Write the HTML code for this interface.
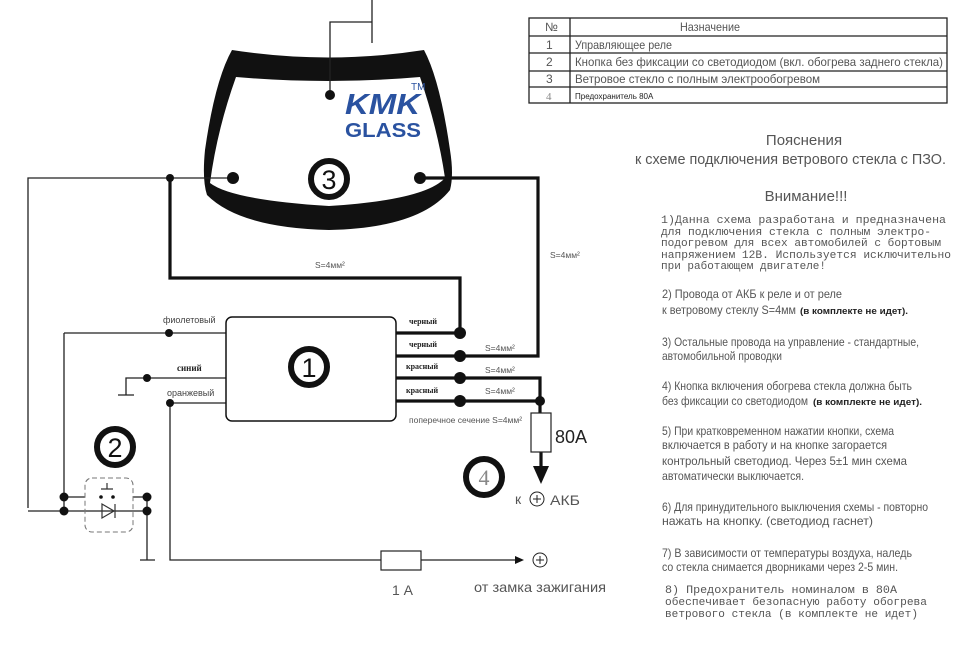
<!DOCTYPE html>
<html><head><meta charset="utf-8"><style>
html,body{margin:0;padding:0;background:#fff;}
svg{display:block;}
.n{font-family:"Liberation Sans",sans-serif;fill:#555;}
.m{font-family:"Liberation Mono","DejaVu Sans Mono",monospace;fill:#555;font-size:11px;}
.b{font-family:"Liberation Serif",serif;font-weight:bold;font-size:8px;fill:#222;}
.s{font-family:"Liberation Sans",sans-serif;font-size:9px;fill:#444;}
</style></head><body>
<svg width="960" height="661" viewBox="0 0 960 661" xmlns="http://www.w3.org/2000/svg">
<!-- windshield -->
<path d="M232,50 Q328,65 424,50 Q440,80 450,150 Q454,175 450,190 Q420,228 329,230 Q240,228 207,195 Q202,180 205,150 Q215,80 232,50 Z" fill="#111"/>
<path d="M236,77 Q328,85 420,77 Q438,130 445,178 Q425,200 329,206 Q232,200 210,183 Q217,130 236,77 Z" fill="#fff"/>
<text x="345" y="114" font-family="Liberation Sans" font-weight="bold" font-style="italic" font-size="29" fill="#2a52a0" textLength="75" lengthAdjust="spacingAndGlyphs">KMK</text>
<text x="345" y="137" font-family="Liberation Sans" font-weight="bold" font-size="20" fill="#2a52a0" textLength="76" lengthAdjust="spacingAndGlyphs">GLASS</text>
<text x="411" y="90" font-family="Liberation Sans" font-size="10" fill="#2a52a0">TM</text>
<g stroke="#222" stroke-width="1.3" fill="none">
<path d="M372,0 V43 M372,22 H330 V95"/>
<path d="M28,508 V178 H233"/>
<path d="M64,333 H226 M64,333 V511"/>
<path d="M126,395 V378 H226 M118,395 H134"/>
<path d="M170,403 H226 M170,403 V560 H515"/>
<path d="M28,511 H64 M64,497 H85 M133,497 H147 M64,511 H147 M147,497 V560 M140,560 H155"/>
</g>
<g stroke="#111" stroke-width="3.2" fill="none">
<path d="M420,178 H538 V356 H396"/>
<path d="M170,178 V278 H460 V333 H396"/>
<path d="M396,378 H540 V413 M396,401 H540 M541,452 V468"/>
</g>
<polygon points="533,466 549,466 541,484" fill="#111"/>
<polygon points="515,556 524,560 515,564" fill="#111"/>
<g fill="#111">
<circle cx="330" cy="95" r="5"/><circle cx="233" cy="178" r="6"/><circle cx="420" cy="178" r="6"/><circle cx="170" cy="178" r="4"/>
<circle cx="169" cy="333" r="4"/><circle cx="147" cy="378" r="4"/><circle cx="170" cy="403" r="4"/>
<circle cx="460" cy="333" r="6"/><circle cx="460" cy="356" r="6"/><circle cx="460" cy="378" r="6"/><circle cx="460" cy="401" r="6"/><circle cx="540" cy="401" r="5"/>
<circle cx="64" cy="497" r="4.5"/><circle cx="64" cy="511" r="4.5"/><circle cx="147" cy="497" r="4.5"/><circle cx="147" cy="511" r="4.5"/>
</g>
<rect x="85" y="478" width="48" height="54" rx="7" fill="none" stroke="#777" stroke-dasharray="5,3"/>
<g stroke="#333" stroke-width="1.2" fill="none">
<path d="M101,489 H113 M107,483 V489"/>
<polygon points="102,504 102,518 114,511"/>
<path d="M115,504 V518"/>
</g>
<circle cx="101" cy="497" r="1.8" fill="#111"/><circle cx="113" cy="497" r="1.8" fill="#111"/>
<rect x="226" y="317" width="170" height="104" rx="6" fill="#fff" stroke="#111" stroke-width="1.5"/>
<rect x="531" y="413" width="20" height="39" fill="#fff" stroke="#222" stroke-width="1.2"/>
<rect x="381" y="551" width="40" height="19" fill="#fff" stroke="#222" stroke-width="1.2"/>
<circle cx="540" cy="560" r="7" fill="none" stroke="#222"/><path d="M536,560 H544 M540,556 V564" stroke="#222"/>
<circle cx="537" cy="499" r="7" fill="none" stroke="#222"/><path d="M533,499 H541 M537,495 V503" stroke="#222"/>
<g fill="none" stroke="#111" stroke-width="6">
<circle cx="329" cy="179" r="18"/><circle cx="309" cy="367" r="18"/><circle cx="115" cy="447" r="18"/><circle cx="484" cy="477" r="18"/>
</g>
<g font-family="Liberation Sans" font-size="27" fill="#111" text-anchor="middle">
<text x="329" y="189">3</text><text x="309" y="377">1</text><text x="115" y="457">2</text>
</g>
<text x="484" y="485" font-family="Liberation Serif" font-size="22" fill="#888" text-anchor="middle">4</text>
<text class="s" x="163" y="323">фиолетовый</text>
<text x="177" y="371" font-family="Liberation Serif" font-weight="bold" font-size="9" fill="#222">синий</text>
<text class="s" x="167" y="396">оранжевый</text>
<text class="b" x="409" y="324">черный</text><text class="b" x="409" y="347">черный</text>
<text class="b" x="406" y="369">красный</text><text class="b" x="406" y="393">красный</text>
<g class="n" font-size="8.5">
<text x="485" y="351">S=4мм²</text><text x="485" y="373">S=4мм²</text><text x="485" y="394">S=4мм²</text>
<text x="409" y="423">поперечное сечение  S=4мм²</text>
<text x="315" y="268">S=4мм²</text>
<text x="550" y="258">S=4мм²</text>
</g>
<text x="555" y="443" font-family="Liberation Sans" font-size="18" fill="#222">80A</text>
<text class="n" x="515" y="504" font-size="14" fill="#444">к</text>
<text class="n" x="550" y="505" font-size="14" fill="#444" textLength="30" lengthAdjust="spacingAndGlyphs">АКБ</text>
<text class="n" x="392" y="595" font-size="14" fill="#444">1 А</text>
<text class="n" x="474" y="592" font-size="14" fill="#444" textLength="132" lengthAdjust="spacingAndGlyphs">от замка зажигания</text>
<g stroke="#222" stroke-width="1.3" fill="none">
<rect x="529" y="18" width="418" height="85"/>
<path d="M529,36 H947 M529,53 H947 M529,71 H947 M529,87 H947 M570,18 V103"/>
</g>
<g class="n" font-size="12">
<text x="545" y="31">№</text><text x="680" y="31" textLength="60" lengthAdjust="spacingAndGlyphs">Назначение</text>
<text x="546" y="49">1</text><text x="575" y="49" textLength="97" lengthAdjust="spacingAndGlyphs">Управляющее реле</text>
<text x="546" y="66">2</text><text x="575" y="66" textLength="368" lengthAdjust="spacingAndGlyphs">Кнопка без фиксации со светодиодом (вкл. обогрева заднего стекла)</text>
<text x="546" y="83">3</text><text x="575" y="83" textLength="245" lengthAdjust="spacingAndGlyphs">Ветровое стекло с полным электрообогревом</text>
</g>
<text x="546" y="100" font-family="Liberation Serif" font-size="11" fill="#888">4</text>
<text x="575" y="99" font-family="Liberation Sans" font-size="8" fill="#222">Предохранитель 80А</text>
<g class="n" font-size="15" fill="#333">
<text x="804" y="145" text-anchor="middle">Пояснения</text>
<text x="635" y="164" textLength="311" lengthAdjust="spacingAndGlyphs">к схеме подключения ветрового стекла с ПЗО.</text>
<text x="806" y="201" text-anchor="middle">Внимание!!!</text>
</g>
<g class="m">
<text x="661" y="223" textLength="285" lengthAdjust="spacingAndGlyphs">1)Данна схема разработана и предназначена</text>
<text x="661" y="235" textLength="270" lengthAdjust="spacingAndGlyphs">для подключения стекла с полным электро-</text>
<text x="661" y="246" textLength="280" lengthAdjust="spacingAndGlyphs">подогревом для всех автомобилей с бортовым</text>
<text x="661" y="258" textLength="290" lengthAdjust="spacingAndGlyphs">напряжением 12В. Используется исключительно</text>
<text x="661" y="269" textLength="165" lengthAdjust="spacingAndGlyphs">при работающем двигателе!</text>
</g>
<g class="n" font-size="12">
<text x="662" y="298" textLength="180" lengthAdjust="spacingAndGlyphs">2) Провода от АКБ к реле  и от реле</text>
<text x="662" y="314" textLength="134" lengthAdjust="spacingAndGlyphs">к ветровому стеклу S=4мм</text>
<text x="800" y="314" font-weight="bold" font-size="9" fill="#222" textLength="108" lengthAdjust="spacingAndGlyphs">(в комплекте не идет).</text>
<text x="662" y="346" textLength="257" lengthAdjust="spacingAndGlyphs">3) Остальные провода на управление - стандартные,</text>
<text x="662" y="360" textLength="120" lengthAdjust="spacingAndGlyphs">автомобильной проводки</text>
<text x="662" y="390" textLength="250" lengthAdjust="spacingAndGlyphs">4) Кнопка включения обогрева стекла должна быть</text>
<text x="662" y="405" textLength="146" lengthAdjust="spacingAndGlyphs">без фиксации со светодиодом</text>
<text x="813" y="405" font-weight="bold" font-size="9" fill="#222" textLength="109" lengthAdjust="spacingAndGlyphs">(в комплекте не идет).</text>
<text x="662" y="435" textLength="232" lengthAdjust="spacingAndGlyphs">5) При кратковременном нажатии кнопки, схема</text>
<text x="662" y="449" textLength="225" lengthAdjust="spacingAndGlyphs">включается в работу и на кнопке загорается</text>
<text x="662" y="465" textLength="245" lengthAdjust="spacingAndGlyphs">контрольный светодиод. Через  5±1 мин схема</text>
<text x="662" y="480" textLength="142" lengthAdjust="spacingAndGlyphs">автоматически выключается.</text>
<text x="662" y="511" textLength="266" lengthAdjust="spacingAndGlyphs">6) Для принудительного выключения схемы - повторно</text>
<text x="662" y="525" textLength="211" lengthAdjust="spacingAndGlyphs">нажать на кнопку. (светодиод гаснет)</text>
<text x="662" y="557" textLength="250" lengthAdjust="spacingAndGlyphs">7) В зависимости от температуры воздуха, наледь</text>
<text x="662" y="571" textLength="236" lengthAdjust="spacingAndGlyphs">со стекла снимается дворниками через 2-5 мин.</text>
</g>
<g class="m">
<text x="665" y="593" textLength="232" lengthAdjust="spacingAndGlyphs">8) Предохранитель номиналом в 80А</text>
<text x="665" y="605" textLength="262" lengthAdjust="spacingAndGlyphs">обеспечивает безопасную работу обогрева</text>
<text x="665" y="617" textLength="253" lengthAdjust="spacingAndGlyphs">ветрового стекла (в комплекте не идет)</text>
</g>
</svg>
</body></html>
